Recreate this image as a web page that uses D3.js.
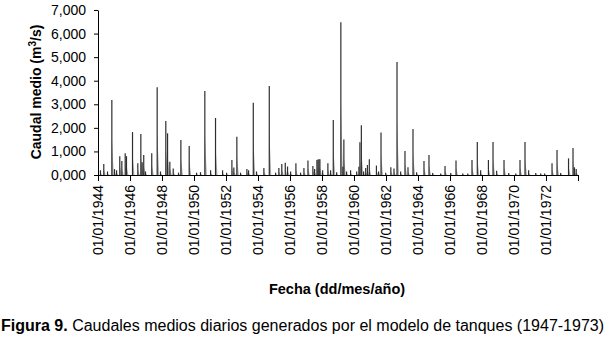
<!DOCTYPE html>
<html>
<head>
<meta charset="utf-8">
<script src="https://cdn.jsdelivr.net/npm/d3@7"></script>
<style>
    body { margin: 0; background: #fff; }
    svg { display: block; }
    text { font-family: "Liberation Sans", Arial, sans-serif; }
</style>
</head>
<body>
<svg id="chart" width="607" height="337"></svg>
<script>
// Peaks of the daily flow series
const peakDates = [
    "1944-02-26", "1944-05-12", "1944-08-05", "1944-11-12", "1945-01-12", "1945-02-28", "1945-05-12", "1945-06-28",
    "1945-09-13", "1945-10-12", "1946-02-27", "1946-06-28", "1946-09-05", "1946-10-05", "1946-11-10", "1946-12-20",
    "1947-05-12", "1947-09-13", "1947-11-28", "1948-03-28", "1948-05-07", "1948-06-28", "1948-09-13", "1949-01-12",
    "1949-03-07", "1949-09-13", "1950-02-28", "1950-05-29", "1950-09-05", "1951-01-15", "1951-05-07", "1951-10-15",
    "1952-01-15", "1952-05-15", "1952-06-28", "1952-09-05", "1952-11-28", "1953-04-22", "1953-05-30", "1953-09-15",
    "1953-11-28", "1954-05-15", "1954-09-15", "1955-02-06", "1955-04-22", "1955-06-28", "1955-09-15", "1955-11-06",
    "1956-01-15", "1956-05-15", "1956-08-29", "1956-11-14", "1957-02-14", "1957-06-07", "1957-07-16", "1957-09-07",
    "1957-10-01", "1957-10-23", "1957-11-14", "1958-01-15", "1958-05-15", "1958-07-16", "1958-09-15", "1958-12-01",
    "1959-03-07", "1959-04-22", "1959-05-15", "1959-07-16", "1959-10-15", "1960-03-03", "1960-04-22", "1960-05-15",
    "1960-06-17", "1960-08-07", "1960-09-24", "1960-11-03", "1960-12-16", "1961-05-27", "1961-07-16", "1961-09-09",
    "1961-12-24", "1962-04-22", "1962-07-02", "1962-09-09", "1962-12-01", "1963-03-10", "1963-05-18", "1963-09-09",
    "1963-12-01", "1964-05-17", "1964-09-08", "1964-12-01", "1965-06-03", "1965-09-09", "1966-01-18", "1966-05-18",
    "1966-10-19", "1967-02-10", "1967-05-18", "1967-09-16", "1967-12-01", "1968-05-27", "1968-09-09", "1968-12-01",
    "1969-05-18", "1969-09-02", "1970-02-10", "1970-05-18", "1970-09-09", "1970-12-01", "1971-05-12", "1971-09-02",
    "1971-12-01", "1972-05-18", "1972-09-09", "1972-12-01", "1973-05-30", "1973-09-09", "1973-10-12", "1973-11-21"
]
const peakFlows = [
    200, 470, 150, 3180, 250, 200, 800, 590,
    920, 800, 1820, 500, 1740, 540, 850, 150,
    920, 3720, 150, 2290, 1770, 565, 280, 100,
    1485, 1230, 100, 120, 3560, 200, 2420, 200,
    100, 640, 320, 1625, 100, 250, 200, 3070,
    150, 300, 3775, 100, 300, 470, 520, 360,
    150, 495, 100, 300, 610, 380, 250, 640,
    660, 670, 670, 200, 495, 200, 2330, 120,
    6480, 350, 1510, 150, 200, 150, 350, 1385,
    2110, 150, 300, 424, 665, 400, 150, 1800,
    100, 325, 280, 4790, 150, 1020, 325, 1950,
    120, 594, 850, 80, 60, 380, 80, 620,
    60, 60, 636, 1400, 200, 636, 1400, 180,
    636, 80, 60, 636, 1400, 200, 80, 60,
    60, 495, 1060, 80, 706, 1145, 325, 250
]

const yTicks = [0, 1000, 2000, 3000, 4000, 5000, 6000, 7000]
const yTickLabels = ["0,000", "1,000", "2,000", "3,000", "4,000", "5,000", "6,000", "7,000"]
const tickYears = [1944, 1946, 1948, 1950, 1952, 1954, 1956, 1958, 1960, 1962, 1964, 1966, 1968, 1970, 1972, 1974]

const svg = d3.select('#chart')
const parse = d3.timeParse('%Y-%m-%d')
const data = peakDates.map((d, i) => ({ date: parse(d), flow: peakFlows[i] }))

const x = d3.scaleTime()
    .domain([new Date(1944, 0, 1), new Date(1974, 0, 1)])
    .range([98, 578])
const y = d3.scaleLinear()
    .domain([0, 7000])
    .range([175, 10])

// recession tail of each spike (light)
svg.append('g')
    .attr('fill', '#aaa')
    .selectAll('path')
    .data(data)
    .join('path')
    .attr('d', d => `M${x(d.date)},${y(0)}L${x(d.date)},${y(d.flow * 0.5)}L${x(d3.timeDay.offset(d.date, 45))},${y(0)}Z`)

// the spikes
svg.append('g')
    .attr('stroke', '#2e2e2e')
    .attr('stroke-width', 1.2)
    .selectAll('line')
    .data(data)
    .join('line')
    .attr('x1', d => x(d.date))
    .attr('x2', d => x(d.date))
    .attr('y1', y(0))
    .attr('y2', d => y(d.flow))

// Axis
const fmt = d3.timeFormat('%d/%m/%Y')
const xAxis = g => g
    .attr('transform', `translate(0,${y(0)})`)
    .call(d3.axisBottom(x)
        .tickValues(tickYears.map(t => new Date(t, 0, 1)))
        .tickFormat(d => d.getFullYear() < 1974 ? fmt(d) : '')
        .tickSize(6)
        .tickSizeOuter(0))

const yAxis = g => g
    .attr('transform', `translate(${x.range()[0]},0)`)
    .call(d3.axisLeft(y)
        .tickValues(yTicks)
        .tickFormat((d, i) => yTickLabels[i])
        .tickSize(4)
        .tickPadding(8)
        .tickSizeOuter(0))

const gx = svg.append('g').call(xAxis)
gx.selectAll('text')
    .attr('transform', 'rotate(-90)')
    .attr('text-anchor', 'end')
    .attr('x', -10)
    .attr('y', 0)
    .attr('dy', '0.35em')
    .attr('fill', '#000')
    .style('font-size', '14px')

const gy = svg.append('g').call(yAxis)
gy.selectAll('text')
    .attr('fill', '#000')
    .style('font-size', '14px')

svg.selectAll('.domain, .tick line').attr('stroke', '#000')

// Axis titles
const yTitle = svg.append('text')
    .attr('transform', 'translate(41,92) rotate(-90)')
    .attr('text-anchor', 'middle')
    .style('font-size', '14px')
    .style('font-weight', 'bold')
yTitle.append('tspan').text('Caudal medio (m')
yTitle.append('tspan').attr('dy', -5).style('font-size', '10px').text('3')
yTitle.append('tspan').attr('dy', 5).text('/s)')

svg.append('text')
    .attr('x', 337)
    .attr('y', 294)
    .attr('text-anchor', 'middle')
    .style('font-size', '14.5px')
    .style('font-weight', 'bold')
    .text('Fecha (dd/mes/año)')

// Caption
const caption = svg.append('text')
    .attr('x', 1)
    .attr('y', 331)
    .style('font-size', '16px')
caption.append('tspan').style('font-weight', 'bold').text('Figura 9.')
caption.append('tspan').text(' Caudales medios diarios generados por el modelo de tanques (1947-1973)')
</script>
</body>
</html>
